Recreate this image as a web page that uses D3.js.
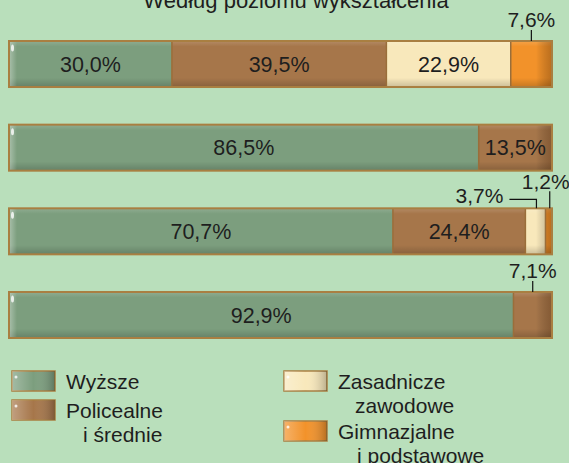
<!DOCTYPE html>
<html>
<head>
<meta charset="utf-8">
<script src="https://cdn.jsdelivr.net/npm/d3@7"></script>
<style>
  body { margin: 0; background: #b9dfbb; }
  #graphic { width: 569px; height: 463px; overflow: hidden; }
  text { font-family: "Liberation Sans", Arial, sans-serif; fill: #1e1e1e; }
</style>
</head>
<body>
<div id="graphic"></div>
<script>
// Data
var title = "Według poziomu wykształcenia";
var categories = ["Wyższe", "Policealne i średnie", "Zasadnicze zawodowe", "Gimnazjalne i podstawowe"];
var legendLines = [["Wyższe"], ["Policealne", "i średnie"], ["Zasadnicze", "zawodowe"], ["Gimnazjalne", "i podstawowe"]];
var rows = ["r1", "r2", "r3", "r4"];
var wyzsze = [30.0, 86.5, 70.7, 92.9];
var policealne = [39.5, 13.5, 24.4, 7.1];
var zasadnicze = [22.9, 0, 3.7, 0];
var gimnazjalne = [7.6, 0, 1.2, 0];

var colours = ["#7c9e7e", "#a6764a", "#f8e8bb", "#f2922a"];
var borderColour = "#a97f41";

var width = 569, height = 463;
var svg = d3.select("#graphic").append("svg").attr("width", width).attr("height", height);

var defs = svg.append("defs");
var vshade = defs.append("linearGradient").attr("id", "vshade").attr("x1", 0).attr("x2", 0).attr("y1", 0).attr("y2", 1);
vshade.append("stop").attr("offset", "0%").attr("stop-color", "#fff").attr("stop-opacity", 0.15);
vshade.append("stop").attr("offset", "12%").attr("stop-color", "#fff").attr("stop-opacity", 0);
vshade.append("stop").attr("offset", "80%").attr("stop-color", "#000").attr("stop-opacity", 0);
vshade.append("stop").attr("offset", "100%").attr("stop-color", "#000").attr("stop-opacity", 0.18);
var rshade = defs.append("linearGradient").attr("id", "rshade");
rshade.append("stop").attr("offset", "0%").attr("stop-color", "#000").attr("stop-opacity", 0);
rshade.append("stop").attr("offset", "100%").attr("stop-color", "#3a1a00").attr("stop-opacity", 0.3);
var lshade = defs.append("linearGradient").attr("id", "lshade");
lshade.append("stop").attr("offset", "0%").attr("stop-color", "#fff").attr("stop-opacity", 0.35);
lshade.append("stop").attr("offset", "100%").attr("stop-color", "#fff").attr("stop-opacity", 0);
var swShade = defs.append("linearGradient").attr("id", "swshade");
swShade.append("stop").attr("offset", "0%").attr("stop-color", "#fff").attr("stop-opacity", 0.3);
swShade.append("stop").attr("offset", "50%").attr("stop-color", "#fff").attr("stop-opacity", 0);
swShade.append("stop").attr("offset", "100%").attr("stop-color", "#000").attr("stop-opacity", 0.25);

// Scales
var x = d3.scaleLinear().domain([0, 100]).range([9, 552]);
var y = d3.scaleBand().domain(rows).range([41, 338]).paddingInner(0.45);

// Title (cut off at the top edge)
svg.append("text").attr("x", 296).attr("y", 8).attr("text-anchor", "middle")
  .style("font-size", "22px").text(title);

// Build table
var table = rows.map(function (r, i) {
  var o = { row: r };
  o[categories[0]] = wyzsze[i];
  o[categories[1]] = policealne[i];
  o[categories[2]] = zasadnicze[i];
  o[categories[3]] = gimnazjalne[i];
  return o;
});
var series = d3.stack().keys(categories)(table);

var fmt = function (v) { return d3.format(".1f")(v).replace(".", ",") + "%"; };

rows.forEach(function (r, ri) {
  var top = y(r), bh = y.bandwidth();
  var g = svg.append("g");
  var segs = series.map(function (s, si) {
    return { si: si, x0: s[ri][0], x1: s[ri][1], v: s[ri][1] - s[ri][0] };
  }).filter(function (d) { return d.v > 0; });

  g.selectAll("rect.seg").data(segs).enter().append("rect")
    .attr("x", function (d) { return x(d.x0); })
    .attr("y", top)
    .attr("width", function (d) { return x(d.x1) - x(d.x0); })
    .attr("height", bh)
    .attr("fill", function (d) { return colours[d.si]; });

  // shading
  g.append("rect").attr("x", x(0)).attr("y", top).attr("width", x(100) - x(0)).attr("height", bh)
    .attr("fill", "url(#vshade)");
  g.append("rect").attr("x", x(100) - 16).attr("y", top).attr("width", 16).attr("height", bh)
    .attr("fill", "url(#rshade)");
  g.append("rect").attr("x", x(0)).attr("y", top).attr("width", 8).attr("height", bh)
    .attr("fill", "url(#lshade)");
  g.append("ellipse").attr("cx", x(0) + 3.5).attr("cy", top + 7).attr("rx", 1.5).attr("ry", 3.5)
    .attr("fill", "#fff").attr("opacity", 0.8);

  // separators and border
  g.selectAll("line.sep").data(segs.slice(1)).enter().append("line")
    .attr("x1", function (d) { return x(d.x0); }).attr("x2", function (d) { return x(d.x0); })
    .attr("y1", top).attr("y2", top + bh)
    .attr("stroke", "#9a6e3a").attr("stroke-width", 1.5);
  g.append("rect").attr("x", x(0)).attr("y", top).attr("width", x(100) - x(0)).attr("height", bh)
    .attr("fill", "none").attr("stroke", borderColour).attr("stroke-width", 2);

  // labels
  var inside = segs.filter(function (d) { return d.v >= 10; });
  var outside = segs.filter(function (d) { return d.v < 10; });
  g.selectAll("text.in").data(inside).enter().append("text")
    .attr("x", function (d) { return (x(d.x0) + x(d.x1)) / 2; })
    .attr("y", top + bh / 2).attr("dy", "0.35em")
    .attr("text-anchor", "middle").style("font-size", "21.5px")
    .text(function (d) { return fmt(d.v); });

  outside.forEach(function (d, k) {
    var cx = (x(d.x0) + x(d.x1)) / 2;
    if (outside.length === 1) {
      g.append("line").attr("x1", cx).attr("x2", cx).attr("y1", top - 11).attr("y2", top)
        .attr("stroke", "#111").attr("stroke-width", 1.2);
      g.append("text").attr("x", cx).attr("y", top - 14).attr("text-anchor", "middle")
        .style("font-size", "21px").text(fmt(d.v));
    } else if (k === outside.length - 1) {
      g.append("line").attr("x1", cx + 1).attr("x2", cx + 1).attr("y1", top - 17).attr("y2", top)
        .attr("stroke", "#111").attr("stroke-width", 1.2);
      g.append("text").attr("x", cx - 3).attr("y", top - 19).attr("text-anchor", "middle")
        .style("font-size", "21px").text(fmt(d.v));
    } else {
      g.append("path").attr("d", "M" + (cx - 26) + "," + (top - 9) + "H" + (cx + 1) + "V" + top)
        .attr("fill", "none").attr("stroke", "#111").attr("stroke-width", 1.2);
      g.append("text").attr("x", cx - 32).attr("y", top - 5).attr("text-anchor", "end")
        .style("font-size", "21px").text(fmt(d.v));
    }
  });
});

// Legend
var legendPos = [[12, 371], [12, 400], [284, 371], [284, 421]];
var indent = [0, 17, 17, 19];
var legend = svg.selectAll("g.legend").data(categories).enter().append("g")
  .attr("transform", function (d, i) { return "translate(" + legendPos[i][0] + "," + legendPos[i][1] + ")"; });
legend.append("rect").attr("width", 43).attr("height", 20)
  .attr("fill", function (d, i) { return colours[i]; })
  .attr("stroke", borderColour).attr("stroke-width", 1.5);
legend.append("rect").attr("width", 43).attr("height", 20).attr("fill", "url(#swshade)");
legend.append("ellipse").attr("cx", 4).attr("cy", 6).attr("rx", 1.5).attr("ry", 1.5)
  .attr("fill", "#fff").attr("opacity", 0.8);
legend.each(function (d, i) {
  var el = d3.select(this);
  legendLines[i].forEach(function (line, li) {
    el.append("text").attr("x", 54 + (li > 0 ? indent[i] : 0)).attr("y", 17.5 + li * 24)
      .style("font-size", "21px").text(line);
  });
});
</script>
</body>
</html>
